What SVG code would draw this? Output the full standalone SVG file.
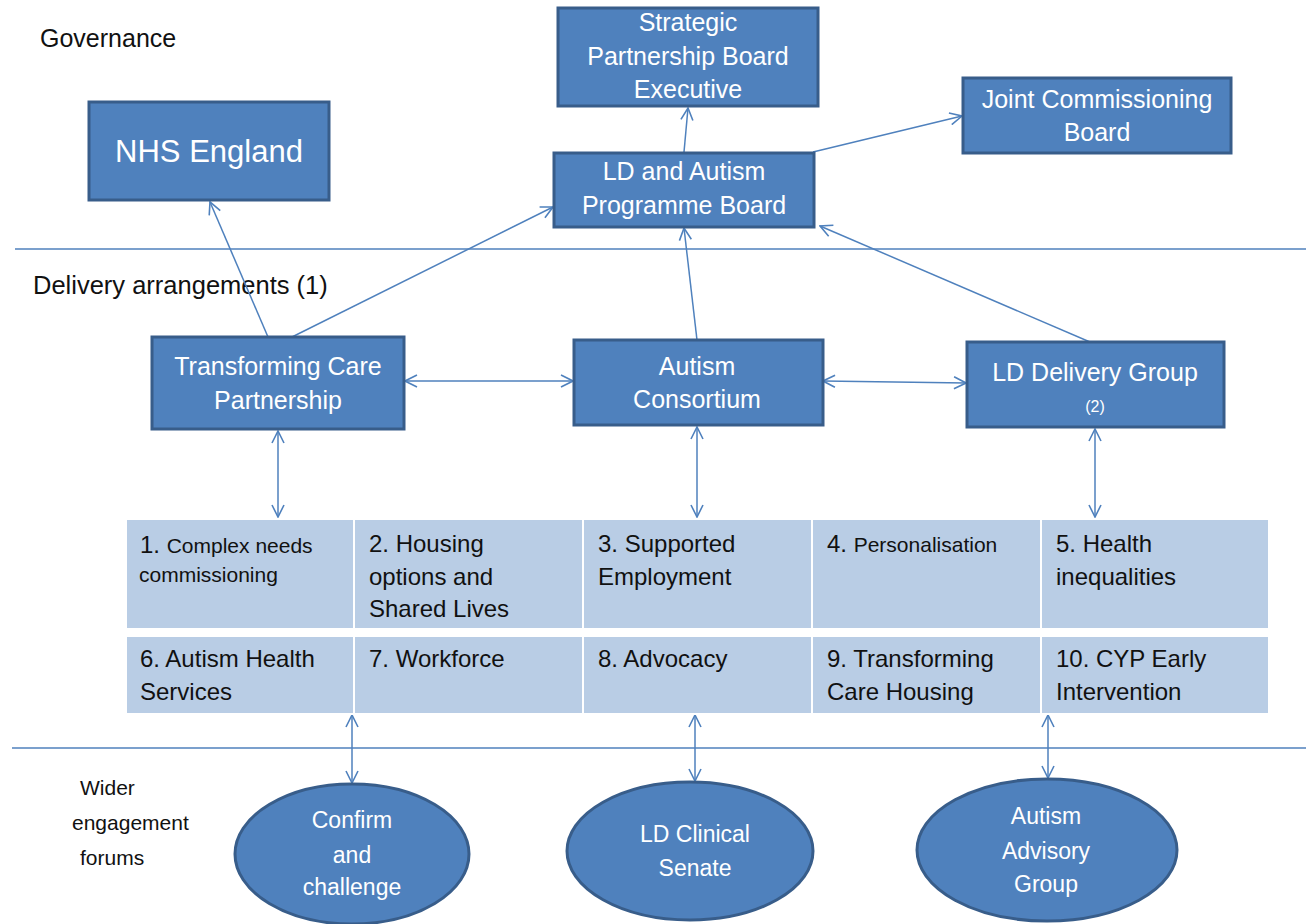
<svg xmlns="http://www.w3.org/2000/svg" width="1306" height="924" viewBox="0 0 1306 924">
<style>
.box{fill:#4f81bd;stroke:#385d8a;stroke-width:3}
.ell{fill:#4f81bd;stroke:#385d8a;stroke-width:3}
.cell{fill:#b9cde5;stroke:#ffffff;stroke-width:2}
.wt{fill:#ffffff;font-family:"Liberation Sans",Arial,sans-serif;font-size:25px;text-anchor:middle}
.et{font-size:23px}
.gt{fill:#111111;font-family:"Liberation Sans",Arial,sans-serif;font-size:24px}
.sm{font-size:21px}
.lbl{fill:#111111;font-family:"Liberation Sans",Arial,sans-serif;font-size:25px}
.fl{font-size:21px}
.sep{stroke:#4f81bd;stroke-width:1.5;fill:none}
.con{stroke:#4f81bd;stroke-width:1.5;fill:none}
.one{marker-end:url(#arr)}
.two{marker-end:url(#arr);marker-start:url(#arr)}
</style>
<defs>
<marker id="arr" viewBox="0 0 14 14" refX="13" refY="7" markerWidth="14" markerHeight="14" markerUnits="userSpaceOnUse" orient="auto-start-reverse">
<path d="M1,1 L13,7 L1,13" fill="none" stroke="#4f81bd" stroke-width="1.6"/>
</marker>
</defs>
<rect width="1306" height="924" fill="#ffffff"/>

<g id="separators">
<line class="sep" x1="15" y1="249" x2="1306" y2="249"/>
<line class="sep" x1="12" y1="748" x2="1306" y2="748"/>
</g>

<g id="section-labels">
<text class="lbl" x="40" y="47">Governance</text>
<text class="lbl" x="33" y="294" style="font-size:25.5px">Delivery arrangements (1)</text>
<text class="lbl fl" x="80" y="795">Wider</text>
<text class="lbl fl" x="72" y="830">engagement</text>
<text class="lbl fl" x="80" y="865">forums</text>
</g>

<g id="connectors">
<line class="con one" x1="684" y1="152" x2="688" y2="108"/>
<line class="con one" x1="813" y1="152" x2="962" y2="116"/>
<line class="con one" x1="268" y1="337" x2="210" y2="202"/>
<line class="con one" x1="292" y1="337" x2="553" y2="207"/>
<line class="con one" x1="697" y1="340" x2="684" y2="228"/>
<line class="con one" x1="1090" y1="342" x2="820" y2="226"/>
<line class="con two" x1="405" y1="381" x2="573" y2="381"/>
<line class="con two" x1="823" y1="381" x2="966" y2="383"/>
<line class="con two" x1="278" y1="431" x2="278" y2="517"/>
<line class="con two" x1="697" y1="427" x2="697" y2="517"/>
<line class="con two" x1="1095" y1="429" x2="1095" y2="517"/>
<line class="con two" x1="352" y1="715" x2="352" y2="783"/>
<line class="con two" x1="695" y1="715" x2="695" y2="781"/>
<line class="con two" x1="1048" y1="715" x2="1048" y2="778"/>
</g>

<g id="strategic-board">
<rect class="box" x="558" y="8" width="260" height="98"/>
<text class="wt" x="688" y="31">Strategic</text>
<text class="wt" x="688" y="65">Partnership Board</text>
<text class="wt" x="688" y="98">Executive</text>
</g>

<g id="programme-board">
<rect class="box" x="554" y="153" width="260" height="74"/>
<text class="wt" x="684" y="180">LD and Autism</text>
<text class="wt" x="684" y="214">Programme Board</text>
</g>

<g id="joint-commissioning">
<rect class="box" x="963" y="78" width="268" height="75"/>
<text class="wt" x="1097" y="108">Joint Commissioning</text>
<text class="wt" x="1097" y="141">Board</text>
</g>

<g id="nhs-england">
<rect class="box" x="89" y="102" width="240" height="98"/>
<text class="wt" x="209" y="162" style="font-size:31px">NHS England</text>
</g>

<g id="transforming-care">
<rect class="box" x="152" y="337" width="252" height="92"/>
<text class="wt" x="278" y="375">Transforming Care</text>
<text class="wt" x="278" y="409">Partnership</text>
</g>

<g id="autism-consortium">
<rect class="box" x="574" y="340" width="249" height="85"/>
<text class="wt" x="697" y="375">Autism</text>
<text class="wt" x="697" y="408">Consortium</text>
</g>

<g id="ld-delivery">
<rect class="box" x="967" y="342" width="257" height="85"/>
<text class="wt" x="1095" y="381">LD Delivery Group</text>
<text class="wt" x="1095" y="412" style="font-size:16px">(2)</text>
</g>

<g id="workstreams">
<rect class="cell" x="126" y="519" width="228" height="110"/>
<rect class="cell" x="354" y="519" width="229" height="110"/>
<rect class="cell" x="583" y="519" width="229" height="110"/>
<rect class="cell" x="812" y="519" width="229" height="110"/>
<rect class="cell" x="1041" y="519" width="228" height="110"/>
<rect class="cell" x="126" y="636" width="228" height="78"/>
<rect class="cell" x="354" y="636" width="229" height="78"/>
<rect class="cell" x="583" y="636" width="229" height="78"/>
<rect class="cell" x="812" y="636" width="229" height="78"/>
<rect class="cell" x="1041" y="636" width="228" height="78"/>
<text class="gt" x="140" y="553">1. <tspan class="sm">Complex needs</tspan></text>
<text class="gt sm" x="139" y="582">commissioning</text>
<text class="gt" x="369" y="552">2. Housing</text>
<text class="gt" x="369" y="585">options and</text>
<text class="gt" x="369" y="617">Shared Lives</text>
<text class="gt" x="598" y="552">3. Supported</text>
<text class="gt" x="598" y="585">Employment</text>
<text class="gt" x="827" y="552">4. <tspan class="sm">Personalisation</tspan></text>
<text class="gt" x="1056" y="552">5. Health</text>
<text class="gt" x="1056" y="585">inequalities</text>
<text class="gt" x="140" y="667">6. Autism Health</text>
<text class="gt" x="140" y="700">Services</text>
<text class="gt" x="369" y="667">7. Workforce</text>
<text class="gt" x="598" y="667">8. Advocacy</text>
<text class="gt" x="827" y="667">9. Transforming</text>
<text class="gt" x="827" y="700">Care Housing</text>
<text class="gt" x="1056" y="667">10. CYP Early</text>
<text class="gt" x="1056" y="700">Intervention</text>
</g>

<g id="confirm-challenge">
<ellipse class="ell" cx="352" cy="854" rx="117" ry="70"/>
<text class="wt et" x="352" y="828">Confirm</text>
<text class="wt et" x="352" y="863">and</text>
<text class="wt et" x="352" y="895">challenge</text>
</g>

<g id="ld-clinical-senate">
<ellipse class="ell" cx="690" cy="851" rx="123" ry="69"/>
<text class="wt et" x="695" y="842">LD Clinical</text>
<text class="wt et" x="695" y="876">Senate</text>
</g>

<g id="autism-advisory">
<ellipse class="ell" cx="1047" cy="850" rx="130" ry="71"/>
<text class="wt et" x="1046" y="824">Autism</text>
<text class="wt et" x="1046" y="859">Advisory</text>
<text class="wt et" x="1046" y="892">Group</text>
</g>
</svg>
